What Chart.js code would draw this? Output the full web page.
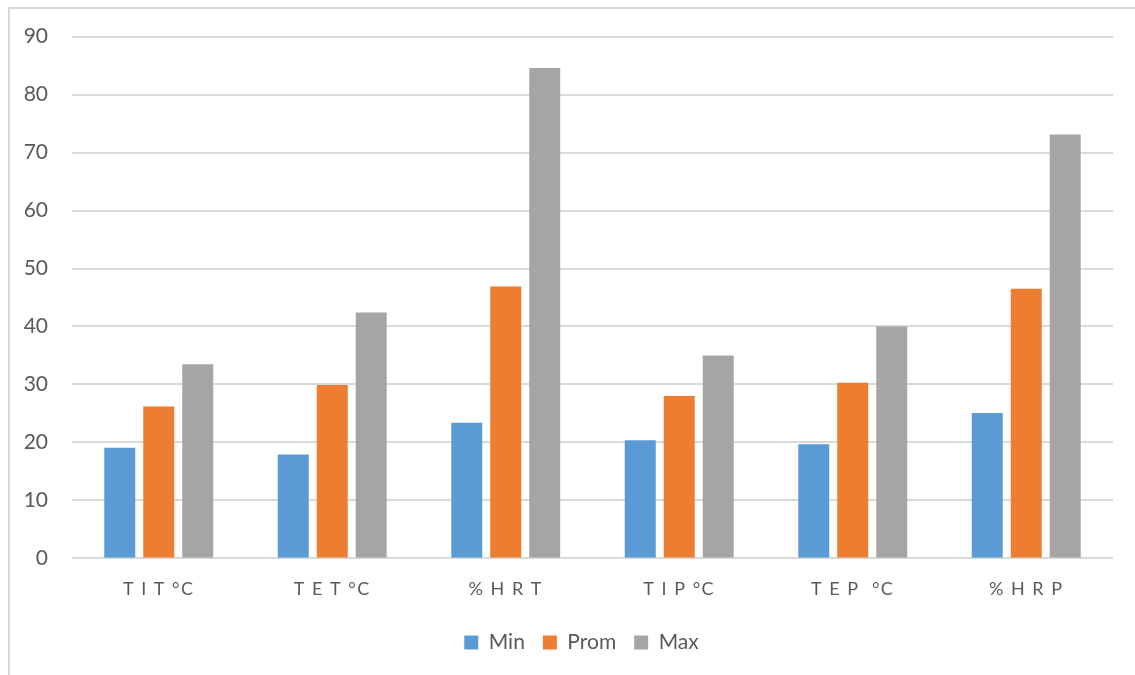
<!DOCTYPE html>
<html>
<head>
<meta charset="utf-8">
<script src="https://cdn.jsdelivr.net/npm/chart.js@4/dist/chart.umd.min.js"></script>
<style>
  html, body { margin: 0; padding: 0; background: #ffffff; }
  #wrap { width: 1135px; height: 675px; position: relative; }
</style>
</head>
<body>
<div id="wrap"><canvas id="c" width="1135" height="675"></canvas></div>
<script>
// Categories and measured values (min / average / max)
const categories = ['T I T °C', 'T E T °C', '% H R T', 'T I P °C', 'T E P  °C', '% H R P'];
const minValues  = [19.1, 17.9, 23.4, 20.4, 19.7, 25.1];
const promValues = [26.2, 29.9, 46.9, 28.0, 30.3, 46.5];
const maxValues  = [33.5, 42.4, 84.6, 35.0, 40.0, 73.1];
const yTicks     = [0, 10, 20, 30, 40, 50, 60, 70, 80, 90];

const FONT = 'Lato, "Open Sans", sans-serif';
const TEXT = '#595959';

// Light frame along the top and left edges
const framePlugin = {
  id: 'frame',
  beforeDraw(chart) {
    const ctx = chart.ctx;
    ctx.save();
    ctx.fillStyle = '#ffffff';
    ctx.fillRect(0, 0, chart.width, chart.height);
    ctx.strokeStyle = '#d9d9d9';
    ctx.lineWidth = 2;
    ctx.beginPath();
    ctx.moveTo(9, chart.height);
    ctx.lineTo(9, 8);
    ctx.lineTo(chart.width, 8);
    ctx.stroke();
    ctx.restore();
  }
};

// Wider letter spacing for the category labels; legend nudged to sit
// under the centre of the whole frame
const tweaks = {
  id: 'tweaks',
  afterLayout(chart) {
    const s = chart.scales.x;
    if (!s._spaced) {
      const orig = s.drawLabels.bind(s);
      s.drawLabels = function (area) {
        const ctx = this.ctx;
        const prev = ctx.letterSpacing;
        ctx.letterSpacing = '1.5px';
        orig(area);
        ctx.letterSpacing = prev || '0px';
      };
      s._spaced = true;
    }
    const lg = chart.legend;
    if (lg) {
      lg.left += 25; lg.right += 25;
      lg.top -= 6; lg.bottom -= 6;
    }
  }
};

new Chart(document.getElementById('c'), {
  type: 'bar',
  data: {
    labels: categories,
    datasets: [
      { label: 'Min',  data: minValues,  backgroundColor: '#5B9BD5' },
      { label: 'Prom', data: promValues, backgroundColor: '#ED7D31' },
      { label: 'Max',  data: maxValues,  backgroundColor: '#A5A5A5' }
    ]
  },
  options: {
    responsive: false,
    animation: false,
    devicePixelRatio: 1,
    categoryPercentage: 0.674,
    barPercentage: 0.795,
    layout: { padding: { top: 36, right: 22, bottom: 6, left: 0 } },
    plugins: {
      tooltip: { enabled: false },
      legend: {
        position: 'bottom',
        labels: {
          boxWidth: 14,
          boxHeight: 14,
          padding: 18,
          color: TEXT,
          font: { family: FONT, size: 21 }
        }
      }
    },
    scales: {
      x: {
        grid: { display: false, drawTicks: false },
        border: { display: false },
        ticks: {
          color: TEXT,
          padding: 20,
          font: { family: FONT, size: 18 }
        }
      },
      y: {
        min: 0,
        max: 90,
        afterFit(scale) { scale.width = 72; },
        afterBuildTicks(scale) { scale.ticks = yTicks.map(v => ({ value: v })); },
        grid: { color: '#d9d9d9', lineWidth: 2, drawTicks: false },
        border: { display: false },
        ticks: {
          color: TEXT,
          padding: 24,
          font: { family: FONT, size: 21 }
        }
      }
    }
  },
  plugins: [framePlugin, tweaks]
});
</script>
</body>
</html>
